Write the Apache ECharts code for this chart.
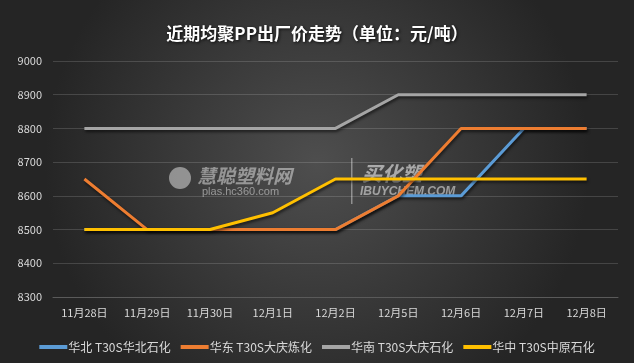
<!DOCTYPE html>
<html><head><meta charset="utf-8">
<script src="https://cdn.jsdelivr.net/npm/echarts@6/dist/echarts.min.js"></script>
<style>html,body{margin:0;padding:0;background:#2b2b2b}#c{width:634px;height:363px}</style>
</head><body><div id="c"></div>
<script>
const categories = ['11月28日','11月29日','11月30日','12月1日','12月2日','12月5日','12月6日','12月7日','12月8日'];
const seriesNames = ['华北 T30S华北石化','华东 T30S大庆炼化','华南 T30S大庆石化','华中 T30S中原石化'];
const huabei = [8500,8500,8500,8500,8500,8600,8600,8800,8800];
const huadong = [8650,8500,8500,8500,8500,8600,8800,8800,8800];
const huanan = [8800,8800,8800,8800,8800,8900,8900,8900,8900];
const huazhong = [8500,8500,8500,8550,8650,8650,8650,8650,8650];
const colors = ['#5b9bd5','#ed7d31','#a5a5a5','#ffc000'];
const values = [huabei, huadong, huanan, huazhong];

const chart = echarts.init(document.getElementById('c'));
const font = '"Noto Sans CJK SC", sans-serif';
chart.setOption({
  backgroundColor: {type:'radial', x:0.5, y:0.45, r:0.75, colorStops:[{offset:0,color:'#4e4e4e'},{offset:1,color:'#252525'}]},
  color: colors,
  title: {text:'近期均聚PP出厂价走势（单位：元/吨）', left:'center', top:20,
    textStyle:{color:'#ffffff', fontSize:17, fontWeight:'bold', fontFamily:font,
      textShadowColor:'rgba(0,0,0,0.8)', textShadowBlur:3, textShadowOffsetX:1, textShadowOffsetY:1}},
  legend: {top:336, left:'center', itemWidth:28, itemHeight:4, itemGap:10,
    icon:'rect',
    textStyle:{color:'#d9d9d9', fontSize:12, fontFamily:font, padding:[0,0,0,-4]}, data: seriesNames},
  grid: {left:53, right:16, top:61, bottom:66},
  xAxis: {type:'category', data:categories, boundaryGap:true,
    axisLine:{show:true, lineStyle:{color:'#5a5a5a'}}, axisTick:{show:false},
    axisLabel:{color:'#d9d9d9', fontSize:11, fontFamily:font, margin:10}},
  yAxis: {type:'value', min:8300, max:9000, interval:100,
    axisLine:{show:false}, axisTick:{show:false},
    axisLabel:{color:'#d9d9d9', fontSize:11, fontFamily:font, margin:11, formatter: v => String(v)},
    splitLine:{lineStyle:{color:'rgba(255,255,255,0.15)', width:1}}},
  graphic: [
    {type:'circle', shape:{cx:180, cy:178, r:11}, style:{fill:'rgba(255,255,255,0.45)'}, z:1},
    {type:'text', left:197, top:166, style:{text:'慧聪塑料网', fill:'rgba(255,255,255,0.45)', font:'italic bold 19px "Noto Sans CJK SC"'}, z:1},
    {type:'text', left:202, top:186, style:{text:'plas.hc360.com', fill:'rgba(255,255,255,0.45)', font:'11px sans-serif'}, z:1},
    {type:'rect', shape:{x:351, y:158, width:1.5, height:46}, style:{fill:'rgba(255,255,255,0.4)'}, z:1},
    {type:'text', left:362, top:163, style:{text:'买化塑', fill:'rgba(255,255,255,0.55)', font:'italic bold 20px "Noto Sans CJK SC"'}, z:1},
    {type:'text', left:360, top:186, style:{text:'IBUYCHEM.COM', fill:'rgba(255,255,255,0.5)', font:'italic bold 12px sans-serif'}, z:1}
  ],
  series: seriesNames.map((n,i)=>({
    name:n, type:'line', data:values[i], symbol:'none', z:2+i,
    lineStyle:{width:3, color:colors[i], shadowColor:'rgba(0,0,0,0.6)', shadowBlur:3, shadowOffsetX:1, shadowOffsetY:2},
    itemStyle:{color:colors[i]}
  }))
});
</script></body></html>
